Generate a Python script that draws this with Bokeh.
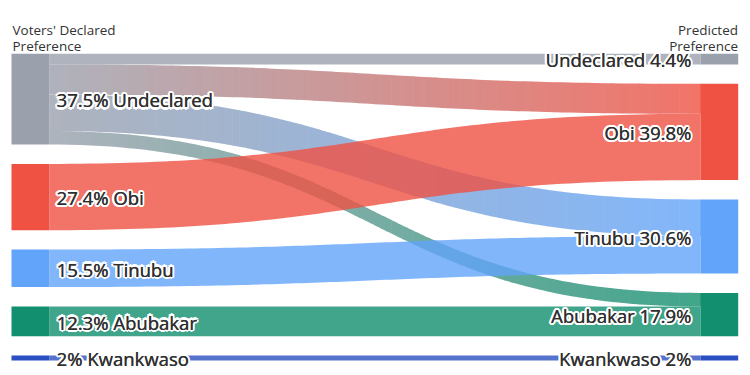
import numpy as np
from bokeh.plotting import figure
from bokeh.models import Range1d, Label, ColumnDataSource
from bokeh.embed import file_html
from bokeh.resources import INLINE
from bokeh.core.properties import value

# ---------------- data ----------------
candidates = ["Undeclared", "Obi", "Tinubu", "Abubakar", "Kwankwaso"]
node_colors = ["#9aa0ac", "#ef5143", "#62a4fa", "#118f6e", "#2a4fc1"]
flow_sources = ["Undeclared", "Undeclared", "Undeclared", "Undeclared", "Obi", "Tinubu", "Abubakar", "Kwankwaso"]
flow_targets = ["Undeclared", "Obi", "Tinubu", "Abubakar", "Obi", "Tinubu", "Abubakar", "Kwankwaso"]
flow_values = [4.4, 12.4, 15.1, 5.6, 27.4, 15.5, 12.3, 2.0]
left_title = ["Voters' Declared", "Preference"]
right_title = ["Predicted", "Preference"]

# ---------------- layout ----------------
W, H = 750, 375
GAP = 8.0
PX = 2.42
TOP = 53.3
LX0, LX1 = 11.0, 48.7
RX0, RX1 = 700.0, 737.7
ALPHA = 0.8
FONT = "Open Sans"

p = figure(width=W, height=H, x_range=Range1d(0, W),
           y_range=Range1d((H - TOP) / PX, -TOP / PX),
           output_backend="svg", toolbar_location=None, min_border=0,
           x_axis_location=None, y_axis_location=None)
p.grid.visible = False
p.outline_line_color = None
p.background_fill_color = "white"
p.border_fill_color = "white"

color_of = dict(zip(candidates, node_colors))

def node_layout(vals):
    tops, bots = [], []
    y = 0.0
    for v in vals:
        tops.append(y)
        bots.append(y + v)
        y += v + GAP
    return tops, bots

left_vals = [round(sum(v for s, v in zip(flow_sources, flow_values) if s == c), 1) for c in candidates]
right_vals = [round(sum(v for t, v in zip(flow_targets, flow_values) if t == c), 1) for c in candidates]
ltops, lbots = node_layout(left_vals)
rtops, rbots = node_layout(right_vals)

def hex2rgb(h):
    h = h.lstrip("#")
    return np.array([int(h[i:i + 2], 16) for i in (0, 2, 4)], dtype=float)

def rgb2hex(c):
    c = np.clip(np.round(c), 0, 255).astype(int)
    return "#%02x%02x%02x" % tuple(c)

# link offsets
out_off = {c: ltops[i] for i, c in enumerate(candidates)}
in_off = {c: rtops[i] for i, c in enumerate(candidates)}
order = sorted(range(len(flow_values)), key=lambda k: (candidates.index(flow_sources[k]), candidates.index(flow_targets[k])))
links = {}
for k in order:
    s, v = flow_sources[k], flow_values[k]
    links[k] = (out_off[s], out_off[s] + v, None, None)
    out_off[s] += v
order_in = sorted(range(len(flow_values)), key=lambda k: (candidates.index(flow_targets[k]), candidates.index(flow_sources[k])))
for k in order_in:
    t, v = flow_targets[k], flow_values[k]
    a, b, _, _ = links[k]
    links[k] = (a, b, in_off[t], in_off[t] + v)
    in_off[t] += v

N = 90
tt = np.linspace(0, 1, N + 1)
xm = (LX1 + RX0) / 2
bx = (1 - tt) ** 3 * LX1 + 3 * (1 - tt) ** 2 * tt * xm + 3 * (1 - tt) * tt ** 2 * xm + tt ** 3 * RX0
w0 = (1 - tt) ** 3 + 3 * (1 - tt) ** 2 * tt
w1 = 3 * (1 - tt) * tt ** 2 + tt ** 3

grad_xs, grad_ys, grad_cols = [], [], []
solid_xs, solid_ys, solid_cols = [], [], []
white = np.array([255.0, 255.0, 255.0])
for k in range(len(flow_values)):
    s, t = flow_sources[k], flow_targets[k]
    sy0, sy1, ty0, ty1 = links[k]
    top = sy0 * w0 + ty0 * w1
    bot = sy1 * w0 + ty1 * w1
    if s == t:
        solid_xs.append(list(bx) + list(bx[::-1]))
        solid_ys.append(list(top) + list(bot[::-1]))
        solid_cols.append(color_of[s])
    else:
        cs, ct = hex2rgb(color_of[s]), hex2rgb(color_of[t])
        for i in range(N):
            xa, xb = bx[i], bx[i + 1] + 0.6
            f = ((bx[i] + bx[i + 1]) / 2 - LX1) / (RX0 - LX1)
            c = cs * (1 - f) + ct * f
            c = white * (1 - ALPHA) + c * ALPHA
            grad_xs.append([xa, xb, xb, xa])
            grad_ys.append([top[i], top[i + 1], bot[i + 1], bot[i]])
            grad_cols.append(rgb2hex(c))

p.patches(grad_xs, grad_ys, fill_color=grad_cols, line_color=None)
p.patches(solid_xs, solid_ys, fill_color=solid_cols, fill_alpha=ALPHA, line_color=None)

# nodes
p.quad(left=[LX0] * 5, right=[LX1] * 5, top=ltops, bottom=lbots, fill_color=node_colors, line_color=None)
p.quad(left=[RX0] * 5, right=[RX1] * 5, top=rtops, bottom=rbots, fill_color=node_colors, line_color=None)

# labels
def fmt(v):
    return ("%.1f" % v).rstrip("0").rstrip(".")

left_labels = ["%s%% %s" % (fmt(v), c) for v, c in zip(left_vals, candidates)]
right_labels = ["%s %s%%" % (c, fmt(v)) for v, c in zip(right_vals, candidates)]
lsrc = ColumnDataSource(dict(x=[LX1 + 7.3] * 5, y=[(a + b) / 2 + 0.3 for a, b in zip(ltops, lbots)], text=left_labels))
rsrc = ColumnDataSource(dict(x=[RX0 - 9.3] * 5, y=[(a + b) / 2 + 0.3 for a, b in zip(rtops, rbots)], text=right_labels))

def halo_text(src, align):
    for ang in np.arange(0, 360, 30):
        dx, dy = 2.2 * np.cos(np.radians(ang)), 2.2 * np.sin(np.radians(ang))
        p.text(x="x", y="y", text="text", source=src, x_offset=dx, y_offset=dy,
               text_font=value(FONT), text_font_size="18.5px", text_color="white",
               text_align=align, text_baseline="middle")
    for dx in (0.0, 0.35):
        p.text(x="x", y="y", text="text", source=src, x_offset=dx,
               text_font=value(FONT), text_font_size="18.5px", text_color="#303030",
               text_align=align, text_baseline="middle")

halo_text(lsrc, "left")
halo_text(rsrc, "right")

# column titles
for i, line in enumerate(left_title):
    p.add_layout(Label(x=12, y=H - 29.5 - 15.5 * i, x_units="screen", y_units="screen", text=line,
                       text_font=FONT, text_font_size="13.5px", text_color="#333333",
                       text_align="left", text_baseline="alphabetic"))
for i, line in enumerate(right_title):
    p.add_layout(Label(x=737.5, y=H - 29.5 - 15.5 * i, x_units="screen", y_units="screen", text=line,
                       text_font=FONT, text_font_size="13.5px", text_color="#333333",
                       text_align="right", text_baseline="alphabetic"))

open("out.html", "w").write(file_html(p, INLINE))
